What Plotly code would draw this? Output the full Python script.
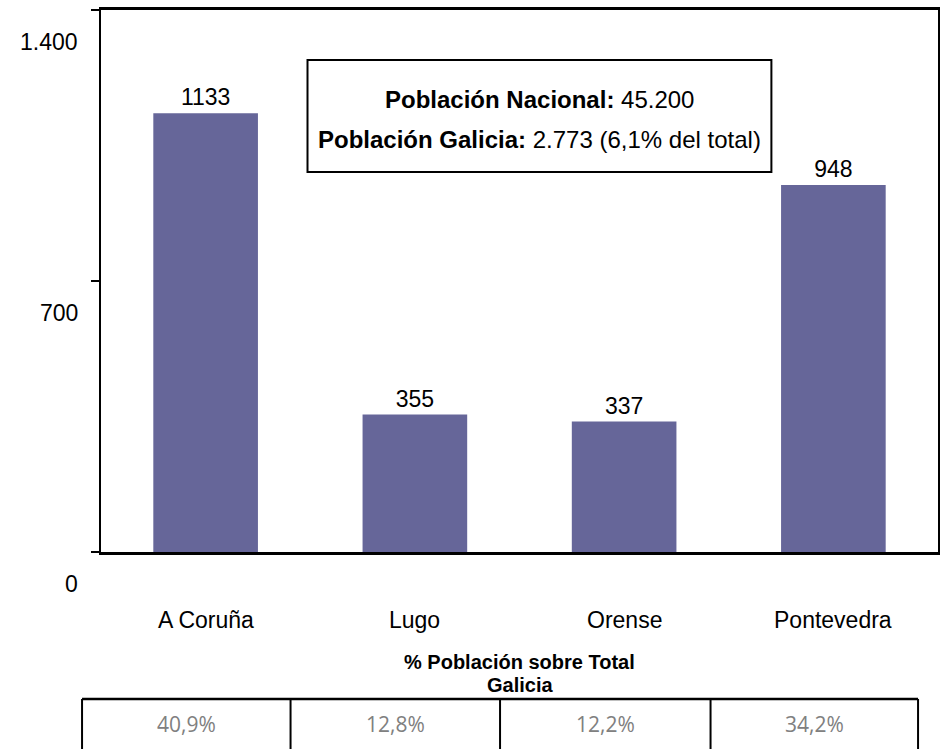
import plotly.graph_objects as go

categories = ["A Coruña", "Lugo", "Orense", "Pontevedra"]
population = [1133, 355, 337, 948]
pct_labels = ["40,9%", "12,8%", "12,2%", "34,2%"]
ytick_vals = [0, 700, 1400]
ytick_text = ["0", "700", "1.400"]
box_line1 = "<b>Población Nacional:</b> 45.200"
box_line2 = "<b>Población Galicia:</b> 2.773 (6,1% del total)"
table_title = ["<b>% Población sobre Total</b>", "<b>Galicia</b>"]

W, H = 941, 749
L, R, T, B = 101, 1, 10, 197
PW, PH = W - L - R, H - T - B
FONT = "Liberation Sans, Arial, sans-serif"


def px(x):
    return (x - L) / PW


def py(y):
    return (H - B - y) / PH


fig = go.Figure()
fig.add_trace(go.Bar(
    x=categories, y=population, width=0.5,
    marker=dict(color="#666699", line=dict(width=0)),
    text=[str(v) for v in population], textposition="outside",
    textfont=dict(family=FONT, size=23, color="black"),
    cliponaxis=False, hoverinfo="skip",
))

fig.update_layout(
    width=W, height=H,
    margin=dict(l=L, r=R, t=T, b=B),
    paper_bgcolor="white", plot_bgcolor="white",
    showlegend=False,
    font=dict(family=FONT, size=23, color="black"),
    bargap=0.5,
)
fig.update_xaxes(
    showline=True, linecolor="black", linewidth=2.5, mirror=True,
    showticklabels=False, ticks="", showgrid=False, zeroline=False,
    range=[-0.5, 3.5],
)
fig.update_yaxes(
    range=[0, 1400], tickvals=ytick_vals, showticklabels=False,
    ticks="outside", ticklen=8, tickwidth=2, tickcolor="black",
    showline=True, linecolor="black", linewidth=2, mirror=True,
    showgrid=False, zeroline=False,
)

annotations = []
for v, t in zip(ytick_vals, ytick_text):
    annotations.append(dict(
        xref="paper", yref="y", x=0, y=v, text=t, showarrow=False,
        xanchor="right", yanchor="middle", xshift=-21, yshift=-32,
        font=dict(family=FONT, size=23, color="black"),
    ))
for c in categories:
    annotations.append(dict(
        xref="x", yref="paper", x=c, y=py(620), text=c, showarrow=False,
        xanchor="center", yanchor="middle",
        font=dict(family=FONT, size=23, color="black"),
    ))
# info box text
for txt, yy in [(box_line1, 100), (box_line2, 139)]:
    annotations.append(dict(
        xref="paper", yref="paper", x=px(540.5), y=py(yy), text=txt,
        showarrow=False, xanchor="center", yanchor="middle",
        font=dict(family=FONT, size=24, color="black"),
    ))
# table title
for txt, yy in zip(table_title, [662, 685]):
    annotations.append(dict(
        xref="paper", yref="paper", x=px(521), y=py(yy), text=txt,
        showarrow=False, xanchor="center", yanchor="middle",
        font=dict(family=FONT, size=20, color="black"),
    ))
cell_edges = [82, 291, 501, 712, 920]
for i, t in enumerate(pct_labels):
    cx = (cell_edges[i] + cell_edges[i + 1]) / 2
    annotations.append(dict(
        xref="paper", yref="paper", x=px(cx), y=py(724), text=t,
        showarrow=False, xanchor="center", yanchor="middle",
        font=dict(family="Open Sans, sans-serif", size=21, color="#808080"),
    ))
fig.update_layout(annotations=annotations)

shapes = [
    dict(type="rect", xref="paper", yref="paper",
         x0=px(308), x1=px(773), y0=py(60), y1=py(172),
         line=dict(color="black", width=2), fillcolor="rgba(0,0,0,0)"),
    dict(type="line", xref="paper", yref="paper",
         x0=px(cell_edges[0]), x1=px(cell_edges[-1]), y0=py(699), y1=py(699),
         line=dict(color="black", width=2.5)),
]
for e in cell_edges:
    shapes.append(dict(type="line", xref="paper", yref="paper",
                       x0=px(e), x1=px(e), y0=py(699), y1=py(760),
                       line=dict(color="black", width=2)))
fig.update_layout(shapes=shapes)

fig.write_html("out.html",
               config={"displayModeBar": False},
               post_script="document.body.style.margin='0';document.body.style.overflow='hidden';")
